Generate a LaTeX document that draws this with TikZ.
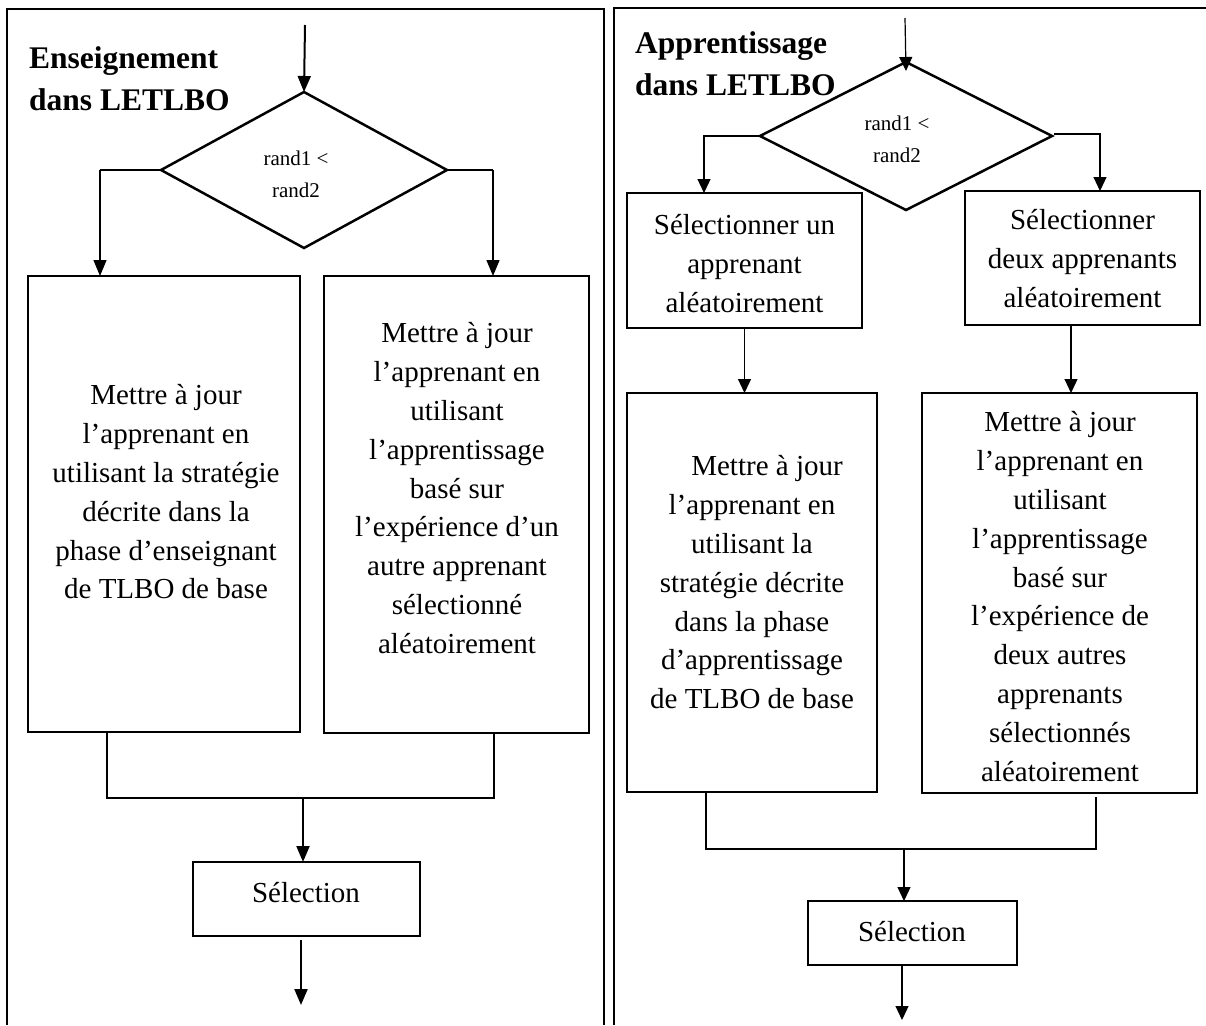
\documentclass[tikz,border=0pt]{standalone}
\usepackage{fontspec}
\setmainfont{Liberation Serif}
\usetikzlibrary{shapes.geometric,arrows.meta}

\newcommand\bodytext{\fontsize{29}{38.9}\selectfont}
\newcommand\condtext{\fontsize{21}{32}\selectfont}
\newcommand\headtext{\fontsize{31.5}{42}\selectfont\bfseries}

\begin{document}
\begin{tikzpicture}[x=1pt,y=-1pt,
  panel/.style={line width=2.5pt},
  box/.style={draw,line width=2.6pt,inner sep=0pt,outer sep=0pt},
  cond/.style={draw,diamond,line width=2.5pt,inner sep=0pt,outer sep=0pt},
  txt/.style={align=center,inner sep=0pt,anchor=north,font=\bodytext},
  condtxt/.style={align=center,inner sep=0pt,anchor=north,font=\condtext},
  head/.style={align=left,inner sep=0pt,anchor=north west,font=\headtext},
  linkL/.style={line width=2pt},
  dropL/.style={line width=1.4pt},
  linkR/.style={line width=1.2pt},
  tipL/.style={-{Triangle[length=16pt,width=13pt]}},
  tipR/.style={-{Triangle[length=14pt,width=13pt]}},
]
\useasboundingbox (0,0) rectangle (1206,1025);

% two framed panels
\draw[panel] (7,1025) -- (7,9) -- (604,9) -- (604,1025);
\draw[panel] (614,1025) -- (614,8) -- (1206,8);

% ---------- teaching phase ----------
\node[head] (titleL) at (29,38.6) {\strut Enseignement\\dans LETLBO};
\node[cond, minimum width=286pt, minimum height=156pt] (dL) at (304,170) {};
\node[condtxt] (cL) at (296,143) {\strut rand1 <\\rand2};

\node[box, minimum width=272pt, minimum height=456pt] (bL1) at (164,504) {};
\node[box, minimum width=265pt, minimum height=457pt] (bL2) at (456.5,504.5) {};
\node[txt] (tL1) at (166,377) {\strut Mettre à jour\\l’apprenant en\\utilisant la stratégie\\décrite dans la\\phase d’enseignant\\de TLBO de base};
\node[txt] (tL2) at (457,315) {\strut Mettre à jour\\l’apprenant en\\utilisant\\l’apprentissage\\basé sur\\l’expérience d’un\\autre apprenant\\sélectionné\\aléatoirement};

\node[box, minimum width=227pt, minimum height=74pt] (sbL) at (306.5,899) {};
\node[txt, anchor=base] (sL) at (306,902) {Sélection};

\coordinate (inL) at (305,25);
\coordinate (mL) at (303,798);
\coordinate (outL) at (301,1005);
\path ([xshift=72pt]bL1.north west) coordinate (aL1);
\path ([xshift=169pt]bL2.north west) coordinate (aL2);
\coordinate (kL1) at (aL1 |- dL.west);
\coordinate (kL2) at (aL2 |- dL.east);

\draw[linkL,tipL] (inL) -- (dL.north);
\draw[linkL] (dL.west) -- (kL1);
\draw[dropL,tipL] (kL1) -- (aL1);
\draw[linkL] (dL.east) -- (kL2);
\draw[dropL,tipL] (kL2) -- (aL2);
\draw[linkL] ([xshift=78.5pt]bL1.south west) |- (mL) -| ([xshift=170pt]bL2.south west);
\draw[linkL,tipL] (mL) -- (mL |- sbL.north);
\draw[linkL,tipL] (sbL.south -| outL) ++(0,4) -- (outL);

% ---------- learning phase ----------
\node[head] (titleR) at (635,23.6) {\strut Apprentissage\\dans LETLBO};
\node[cond, minimum width=292pt, minimum height=148pt] (dR) at (906,136) {};
\node[condtxt] (cR) at (897,108) {\strut rand1 <\\rand2};

\node[box, minimum width=235pt, minimum height=135pt] (bR1) at (744.5,260.5) {};
\node[box, minimum width=235pt, minimum height=134pt] (bR2) at (1082.5,258) {};
\node[txt] (tR1) at (744.5,207) {\strut Sélectionner un\\apprenant\\aléatoirement};
\node[txt] (tR2) at (1082.5,202) {\strut Sélectionner\\deux apprenants\\aléatoirement};

\node[box, minimum width=250pt, minimum height=399pt] (bR3) at (752,592.5) {};
\node[box, minimum width=275pt, minimum height=400pt] (bR4) at (1059.5,593) {};
\node[txt] (tR3) at (752,448) {\strut\hspace*{30pt}Mettre à jour\\l’apprenant en\\utilisant la\\stratégie décrite\\dans la phase\\d’apprentissage\\de TLBO de base};
\node[txt] (tR4) at (1060,404) {\strut Mettre à jour\\l’apprenant en\\utilisant\\l’apprentissage\\basé sur\\l’expérience de\\deux autres\\apprenants\\sélectionnés\\aléatoirement};

\node[box, minimum width=209pt, minimum height=64pt] (sbR) at (912.5,933) {};
\node[txt, anchor=base] (sR) at (912,941) {Sélection};

\coordinate (inR) at (905,18);
\coordinate (aR2) at ([xshift=-11.5pt]bR2.south);
\coordinate (mR) at (904,849);
\coordinate (outR) at (902,1020);
\draw[linkR,tipR] (inR) -- ([yshift=-9pt]dR.north);
\draw[linkR,tipR] (dR.west) -| ([xshift=77pt]bR1.north west);
\draw[linkR,tipR] ([xshift=2pt,yshift=2pt]dR.east) -| ([xshift=135pt]bR2.north west);
\draw[linkR,tipR] (bR1.south) -- (bR1.south |- bR3.north);
\draw[linkR,tipR] (aR2) -- (aR2 |- bR4.north);
\draw[linkR] ([xshift=79pt]bR3.south west) |- (mR) -| ([xshift=174pt,yshift=-4pt]bR4.south west);
\draw[linkR,tipR] (mR) -- (mR |- sbR.north);
\draw[linkR,tipR] (sbR.south -| outR) -- (outR);
\end{tikzpicture}
\end{document}
